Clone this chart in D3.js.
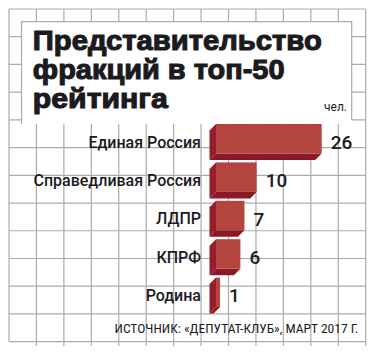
<!DOCTYPE html>
<html>
<head>
	<meta charset="utf-8">
	<title>Представительство фракций</title>
	<script src="https://d3js.org/d3.v7.min.js"></script>
	<style>
		html, body {
			margin: 0;
			background: #fff;
		}
		svg text {
			fill: #1b1b1f;
		}
	</style>
</head>
<body>
	<svg id="svg"></svg>
	<script>
		const categories = ["Единая Россия", "Справедливая Россия", "ЛДПР", "КПРФ", "Родина"];
		const values = [26, 10, 7, 6, 1];
		const titleLines = ["Представительство", "фракций в топ-50", "рейтинга"];
		const unitLabel = "чел.";
		const sourceText = "ИСТОЧНИК: «ДЕПУТАТ-КЛУБ», МАРТ 2017 Г.";

		const W = 375, H = 352;
		const depth = 6.5;

		const svg = d3.select("#svg")
		.attr("width", W)
		.attr("height", H);

		// background grid (graph paper)
		const grid = svg.append("g")
		.attr("stroke", "#ababab")
		.attr("stroke-width", 1.2);

		const gx = d3.range(14).map(i => 9 + i * 27.44);
		const gy = d3.range(13).map(i => 9 + i * 27.72);

		grid.selectAll("line.v")
		.data(gx)
		.enter()
		.append("line")
		.attr("x1", d => d).attr("x2", d => d)
		.attr("y1", 9)
		.attr("y2", (d, i) => i === 0 ? 341.6 : 346);

		grid.selectAll("line.h")
		.data(gy)
		.enter()
		.append("line")
		.attr("x1", 9).attr("x2", gx[gx.length - 1])
		.attr("y1", d => d).attr("y2", d => d);

		// white title box
		svg.append("rect")
		.attr("x", 21.5).attr("y", 21.7)
		.attr("width", 330.2).attr("height", 102)
		.attr("fill", "#fff");

		svg.append("path")
		.attr("d", "M21.5,124V21.7H351.7V120")
		.attr("fill", "none")
		.attr("stroke", "#ababab")
		.attr("stroke-width", 1.2);

		const titleW = [290, 252.7, 136];
		svg.append("g")
		.selectAll("text")
		.data(titleLines)
		.enter()
		.append("text")
		.attr("x", 32.8)
		.attr("y", (d, i) => 50 + i * 29.2)
		.attr("textLength", (d, i) => titleW[i] - 1)
		.attr("lengthAdjust", "spacingAndGlyphs")
		.style("font-family", "'Liberation Sans', Arial, sans-serif")
		.style("font-weight", 700)
		.style("font-size", "28px")
		.style("stroke", "#1b1b1f")
		.style("stroke-width", 1.1)
		.text(d => d);

		svg.append("text")
		.attr("x", 347)
		.attr("y", 111)
		.attr("text-anchor", "end")
		.style("font-family", "Roboto, sans-serif")
		.style("font-size", "12px")
		.text(unitLabel);

		// scales
		const x = d3.scaleLinear()
		.domain([0, 26])
		.range([216, 321.7]);

		const y = d3.scaleBand()
		.domain(categories)
		.range([124, 313.6])
		.paddingInner(0.0625);

		const data = categories.map((c, i) => ({ name: c, value: values[i] }));

		const bars = svg.append("g")
		.selectAll("g")
		.data(data)
		.enter()
		.append("g")
		.attr("transform", d => `translate(0, ${y(d.name)})`);

		const x0 = x(0);
		const hFront = y.bandwidth() - depth;

		// left side
		bars.append("path")
		.attr("fill", "#961d2b")
		.attr("d", `M${x0 - depth},${depth}L${x0},0V${hFront}L${x0 - depth},${hFront + depth}Z`);

		// bottom side
		bars.append("path")
		.attr("fill", "#8a1826")
		.attr("d", d => `M${x0 - depth},${hFront + depth}L${x0},${hFront}H${x(d.value)}L${x(d.value) - depth},${hFront + depth}Z`);

		// front face
		bars.append("rect")
		.attr("x", x0)
		.attr("y", 0)
		.attr("width", d => x(d.value) - x0)
		.attr("height", hFront)
		.attr("fill", "#b3453e");

		bars.append("text")
		.attr("x", 201)
		.attr("y", y.bandwidth() / 2)
		.attr("dy", "0.35em")
		.attr("text-anchor", "end")
		.style("font-family", "Roboto, sans-serif")
		.style("font-weight", 500)
		.style("font-size", "16px")
		.text(d => d.name);

		bars.append("text")
		.attr("x", d => x(d.value) + 9)
		.attr("y", y.bandwidth() / 2)
		.attr("dy", "0.36em")
		.style("font-family", "Roboto, sans-serif")
		.style("font-weight", 500)
		.style("font-size", "19px")
		.text(d => d.value);

		svg.append("text")
		.attr("x", 358.3)
		.attr("y", 332.7)
		.attr("text-anchor", "end")
		.style("font-family", "'Liberation Sans Narrow', 'Roboto Condensed', sans-serif")
		.style("font-size", "13.5px")
		.text(sourceText);
	</script>
</body>
</html>
